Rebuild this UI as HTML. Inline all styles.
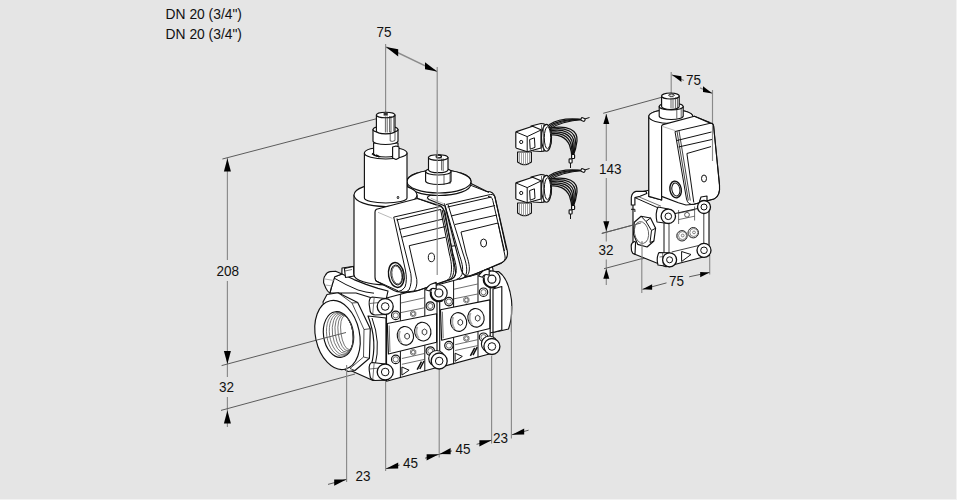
<!DOCTYPE html>
<html><head><meta charset="utf-8">
<style>
html,body{margin:0;padding:0;background:#e5e5e5;width:957px;height:500px;overflow:hidden}
svg{display:block;position:absolute;left:0;top:0}
text{font-family:"Liberation Sans",sans-serif;font-size:13.5px;fill:#111}
.d{stroke:#8a8a8a;stroke-width:1.15;fill:none}
.dd{stroke:#5c5c5c;stroke-width:1;fill:none}
.a{fill:#000;stroke:none}
.o{fill:#fff;stroke:#111;stroke-width:1.15;stroke-linejoin:round}
.l{fill:none;stroke:#111;stroke-width:1}
.t{fill:none;stroke:#333;stroke-width:0.7}
.k{fill:#111;stroke:none}
.edge-r{position:absolute;left:956px;top:0;width:1px;height:500px;background:#f2f2f2}
.edge-b{position:absolute;left:0;top:499px;width:957px;height:1px;background:#f2f2f2}
</style></head>
<body>
<div class="edge-r"></div><div class="edge-b"></div>
<svg width="957" height="500" viewBox="0 0 957 500">
<!-- texts -->
<text transform="translate(165.6 19) scale(1.025 1.07)">DN 20 (3/4")</text>
<text transform="translate(165.6 39) scale(1.025 1.07)">DN 20 (3/4")</text>

<g id="dims">
<!-- main top 75 -->
<text transform="translate(376.5 37) scale(1 1.07)">75</text>
<path class="d" d="M385.6 44V112M437.2 67V275"/><path class="d" d="M386 47L437.2 71.6" style="stroke-width:1.4;stroke:#8c8c8c"/>
<!-- left 208/32 -->
<path class="d" d="M227.4 158V260M227.4 281V377M227.4 397V427"/><path class="dd" d="M222.4 159L377 118.6M221.6 365.6L317 340M221 410.4L355 374"/>
<text transform="translate(216.5 276) scale(1 1.07)">208</text>
<text transform="translate(219 392) scale(1 1.07)">32</text>
<!-- bottom -->
<path class="d" d="M346.6 372V482M385.6 381V471M439.2 369V457.6M491.6 356V443.6M511.4 306V438.6"/>
<path class="dd" d="M328 484.4L346.4 479.4M386 468.7L399.6 465M425 458.2L452 450.9M476.6 444.3L491.6 440.2M512 434.7L528.6 430.2"/>
<text transform="translate(355.5 481) scale(1 1.07)">23</text>
<text transform="translate(403 468) scale(1 1.07)">45</text>
<text transform="translate(455.5 454) scale(1 1.07)">45</text>
<text transform="translate(493 443) scale(1 1.07)">23</text>
<!-- small valve dims -->
<path class="d" d="M671.2 72V93.6M712.5 90V161M606.3 114V161M606.3 178V241.4M606.3 259.5V285M641.8 241V292.9M709.7 255V274.6"/><path class="dd" d="M603.2 113.3L662 97.2M601.8 233.4L640.4 223M604 268.7L660 253.8"/>
<path class="d" d="M671.6 74.9L684 80.5M700 87.8L712 93" style="stroke-width:1.3"/><path class="dd" d="M642.5 289.3L666.5 282.9M689.2 276.8L709.6 272.4"/>
<text transform="translate(686 84.7) scale(1 1.07)">75</text>
<text transform="translate(599 174) scale(1 1.07)">143</text>
<text transform="translate(598.5 255.2) scale(1 1.07)">32</text>
<text transform="translate(669 286) scale(1 1.07)">75</text>
</g>

<g id="body">
<!-- main block behind modules -->
<path class="o" d="M342 268L384 262L430 250L488 240L493 270L493 345L440 362L386 380L373 380.5L345.6 368.2L340 340Z"/>
<!-- right flange (outlet) -->
<path class="o" d="M484 272L498.5 271.5C505 276 509.5 285 511.5 300C512.5 312 511 322 508.5 329L500 331L484 334Z"/>
<path class="o" d="M493 289L501.8 286.5V330L493 332.5Z"/>
<!-- body top saddle under left coil -->
<path class="o" d="M330 293L334 277L342 274L354 279.6L366 284.4L378 288.4L388 291L386 300L372 298L356 293Z"/>
<path class="l" d="M334 278Q346 285.2 358 290Q366 292.5 374 293.2"/>
<path class="o" d="M344.4 268.5L353.5 266.5L354 276L345.5 277.5Z"/>
<path class="t" d="M345 271L352 269.5"/>
<!-- hex flange plate -->
<path class="o" d="M323 302L327 294.5L338 292.7L357.7 302.6L370.3 328.7L369.4 358.3L355 370.5L348 371.5L333 362Z"/>
<path class="t" d="M338 292.7L352 303L357.7 302.6M352 303L364 329.5L370.3 328.7M364 329.5L363.5 357L369.4 358.3M363.5 357L350 368.5L355 370.5" style="stroke:#222;stroke-width:0.8"/>
<!-- end plate between flange and modules -->
<path class="o" d="M368 316L386 318V368L371 366Q378 342 368 316Z"/>
<path class="l" d="M372 318Q381 342 375 366"/>
<!-- top-left boss cylinder -->
<path class="o" d="M323.6 282.8Q323.5 277 325.2 275.6Q327 272 330 271.6L335.6 271.2L342 274L334.8 276.8L330.8 289.2L330 293.2Q327 291 326 288.4Z"/>
<path class="t" d="M325 279L334 280.5M325.5 285L332.5 286" style="stroke:#888"/>
<!-- inlet ring -->
<ellipse class="o" cx="337.5" cy="335" rx="22" ry="35" transform="rotate(-12 337.5 335)"/>
<clipPath id="bore"><ellipse cx="338.5" cy="334.5" rx="15" ry="23" transform="rotate(-8 338.5 334.5)"/></clipPath>
<ellipse class="o" cx="338.5" cy="334.5" rx="15" ry="23" transform="rotate(-8 338.5 334.5)"/>
<g class="t" clip-path="url(#bore)" style="stroke:#444;stroke-width:0.7">
<ellipse cx="339.9" cy="334.2" rx="13.2" ry="22.0" transform="rotate(-8 339.9 334.5)"/>
<ellipse cx="341.4" cy="333.9" rx="11.8" ry="21.0" transform="rotate(-8 341.4 334.5)"/>
<ellipse cx="342.9" cy="333.6" rx="10.3" ry="20.0" transform="rotate(-8 342.9 334.5)"/>
<ellipse cx="344.3" cy="333.3" rx="8.9" ry="19.0" transform="rotate(-8 344.3 334.5)"/>
<ellipse cx="345.8" cy="333.0" rx="7.4" ry="18.0" transform="rotate(-8 345.8 334.5)"/>
<ellipse cx="347.2" cy="332.7" rx="6.0" ry="17.0" transform="rotate(-8 347.2 334.5)"/>
</g>
<g id="mod">
<path class="o" d="M386.5 298L437 284.5V367.5L386.5 381.2Z"/>
<path class="l" d="M400.4 294.4V378M424.8 288V371.3"/>
<path class="t" d="M400.8 303L424.4 297.8M400.8 312.6L424.4 307.8M401.9 358.5L424.4 353.5M401.9 364.3L424.4 359.4"/>
<path class="o" d="M387.3 323.5L436.6 313.7L436.6 342.3L388.4 354Z"/>
<path class="t" d="M389.2 325.5L390 352"/>
<ellipse cx="405.4" cy="335.8" rx="8.1" ry="9.4" transform="rotate(-12 405.4 335.8)" fill="#fff" stroke="#111" stroke-width="1.1"/>
<path d="M399.9 330.8Q397.4 336.8 401.4 342.8" stroke="#aaa" stroke-width="2" fill="none"/>
<path d="M409.4 337.7 407.1 339.2 404.8 337.7 404.8 334.7 407.1 333.2 409.4 334.7Z" fill="none" stroke="#222" stroke-width="0.9"/>
<ellipse cx="422.8" cy="331.6" rx="8.1" ry="9.4" transform="rotate(-12 422.8 331.6)" fill="#fff" stroke="#111" stroke-width="1.1"/>
<path d="M417.3 326.6Q414.8 332.6 418.8 338.6" stroke="#aaa" stroke-width="2" fill="none"/>
<path d="M426.8 333.5 424.5 335.0 422.2 333.5 422.2 330.5 424.5 329.0 426.8 330.5Z" fill="none" stroke="#222" stroke-width="0.9"/>
<path class="t" d="M410.5 312.2L413 310.6L415.8 312.2L415.8 315.4L413.2 317L410.6 315.5ZM410.5 350.6L413 349L415.8 350.6L415.8 353.8L413.2 355.4L410.6 353.9Z" style="stroke:#444"/>
<g class="t"><circle cx="413.2" cy="313.8" r="1.8"/><circle cx="413.2" cy="352.2" r="1.8"/></g>
<g class="o"><circle cx="395.7" cy="315.4" r="4.2"/><circle cx="395.7" cy="359.4" r="4.2"/><circle cx="430.3" cy="306" r="4.2"/><circle cx="430.3" cy="351" r="4.2"/></g>
<g class="t"><circle cx="395.7" cy="315.4" r="2.6"/><circle cx="395.7" cy="359.4" r="2.6"/><circle cx="430.3" cy="306" r="2.6"/><circle cx="430.3" cy="351" r="2.6"/></g>
<path class="l" d="M401.9 367L401.9 375.1L409.1 370.2Z"/>
<path d="M417.2 369.7L421.5 361.6M419.8 369L424 361" stroke="#111" stroke-width="1.5" fill="none"/>
</g>
<use href="#mod" transform="translate(53.2 -13.8)"/>
</g>

<g id="act">
<!-- B2: right plug housing -->
<path class="o" d="M429 196L445 187L470 183L487 191.5Q493 191.2 494.8 196.5L507.2 250.5Q508.8 258.5 502 262.5L472 275.5Q464 278.5 461.5 270.5L445 206L429 199.5Q426 197 429 196Z"/>
<path class="t" d="M430.8 198.2L445 204.3" style="stroke:#999"/>
<path class="l" d="M470 185L489 192.5"/>
<path class="l" d="M446 204.5L490.5 194.5M447.5 207L491.5 197M451 216L495 205.5M455 224.5L497 215M461 232L498 223L505 256Q506 261 501 263.5L476 273.5Q468 276.5 463.8 277.4"/>
<path class="l" d="M444.5 203.5L459 254C461.5 261 463.8 268 462 274.4C460.5 277.5 458.5 278.8 456.6 279.2M448 204.5L463.2 254C466 262 468.5 271 465 276.8C463 278.5 461 279.2 459 279.2M461 232L466.2 254C468.5 261 470.5 268 468.6 273.2C467.5 275.5 466 276.8 463.8 277.4"/>
<path class="l" d="M490.5 194.5Q494.5 194 495.3 198.5L506.5 250M488 196.5Q492 196.3 492.8 200.5L504.5 251"/>
<ellipse class="l" cx="483.6" cy="243" rx="3" ry="4"/>
<path d="M407.5 184Q413 191 417.5 197.5L425.5 199.5L427.5 196L433 189Z" fill="#fff" stroke="none"/>
<path class="l" d="M407.5 184Q413 191 417.5 197.5"/>
<!-- A2: right actuator disk + cap -->
<path class="o" d="M407 181.5A32 11.5 0 0 1 471 181.5V184A32 11.5 0 0 1 407 184Z"/>
<ellipse class="o" cx="439" cy="181.5" rx="32" ry="11.5"/>
<path class="o" d="M425.6 171.5V181A12.7 3.5 0 0 0 451 181V171.5Z"/>
<ellipse class="o" cx="438.3" cy="171.5" rx="12.7" ry="3.5"/>
<path class="o" d="M428.5 157.5V170A9.8 3 0 0 0 448 170V157.5Z"/>
<ellipse class="o" cx="438.2" cy="157.5" rx="9.8" ry="2.8"/>
<path class="t" d="M441.6 158.5V170.5M443.2 158.5V171M444 174V185M450 173V184" style="stroke:#222"/>
<ellipse cx="438.8" cy="156.4" rx="2.6" ry="1.4" fill="none" stroke="#111" stroke-width="1.3"/>
<!-- A1: left actuator -->
<path class="o" d="M354 195V274.4A31.5 10.5 0 0 0 417 274.4V195Z"/>
<ellipse class="o" cx="385.5" cy="195" rx="31.5" ry="11.5"/>
<path class="o" d="M364.4 153V198A21.3 5 0 0 0 407 198V153Z"/>
<ellipse class="o" cx="385.7" cy="153" rx="21.3" ry="6"/>
<ellipse class="l" cx="398" cy="197.5" rx="0.8" ry="1.2"/>
<path class="o" d="M373.6 143V154A12.2 3 0 0 0 398 154V143Z"/>
<path class="o" d="M373 129.5V141A12.5 3.5 0 0 0 398 141V129.5Z"/>
<ellipse class="o" cx="385.5" cy="129.5" rx="12.5" ry="3.5"/>
<path class="o" d="M376.4 115V131A9.3 2.8 0 0 0 395 131V115Z"/>
<ellipse class="o" cx="385.7" cy="115" rx="9.3" ry="2.8"/>
<path class="t" d="M385.4 116.5V132.5M387.2 116.5V132.5M389.6 116V132M391 116V132M393.8 115.5V131.5M390.2 131.5V141M395 131V140.5M390.2 141Q392.5 142 395 140.5" style="stroke:#222"/>
<rect x="383.6" y="112.8" width="4.2" height="2.8" class="k" style="fill:#333"/>
<path class="o" d="M392.6 147L396 146L399 147V158L396 159.5L392.6 158Z"/>
<path class="l" d="M372 153.5L375 155.5M376 155L379.5 157" style="stroke-width:1.6"/>
<!-- B1: left plug housing -->
<path class="o" d="M376.5 209.2L417.5 198.5L436 204.5L441 206L445 212L455.5 271Q456.5 277 451 279L418 290.5Q412 292.5 407 292L400 292Q397 292 394 290.5L377 281.5Q375 280.5 375 277V212Q375 210 376.5 209.2Z"/>
<path class="t" d="M378 212.3L392.3 218.4" style="stroke:#999"/>
<path class="l" d="M417.5 198.5L436.5 205.2"/>
<path class="l" d="M393.7 217.1L439.4 206.7Q443.2 206 443.8 210.5L453 254C455.5 262 457.5 270 455.4 274.4C454.5 277 453 278.5 451.8 279.2L418 290.5L400.6 292.8M393.7 217.1L405.4 270Q407.5 280 405 287Q402.5 291 398.2 291.6"/>
<path class="l" d="M396.6 220L440.3 209.5M399.4 229.5L443.2 219M402.3 237.1L445 226.6M416.8 279.6L409.2 245.7L445.5 237.2M416.8 279.6Q417.5 287 414 291"/>
<path class="l" d="M397 218.5L410.8 273.6Q412.3 283 409 290Q406 293 400.6 292.8M440.5 209L449.4 254C451 260 452.5 268 450.6 275.6C449.8 278 448.5 279.5 447 280.4M442.2 210L451.2 254C453.3 261 455 269 453 275C452 278 450.5 279.5 449 280"/>
<ellipse class="l" cx="431.4" cy="257.4" rx="3.1" ry="4.3"/>
<ellipse class="o" cx="396.3" cy="275" rx="7.7" ry="12.5" transform="rotate(-10 396.3 275)" style="stroke-width:1.5"/>
<ellipse class="l" cx="396.7" cy="275" rx="5.7" ry="10" transform="rotate(-10 396.7 275)"/>
<ellipse class="t" cx="396.9" cy="275" rx="4.8" ry="9" transform="rotate(-10 396.9 275)"/>
<path class="l" d="M375.2 280.5L398.4 291"/>
</g>

<g id="bolts">
<path class="o" d="M385.2 298.5L372.2 297.0Q368.7 297.5 369.2 304.5L370.2 311.5Q371.2 314.5 375.2 315.0L385.2 314.5Z"/>
<path class="t" d="M374.2 297.2L372.7 314.7M369.7 303.5L379.2 302.5"/>
<circle class="o" cx="385.2" cy="306.5" r="8" style="stroke-width:1.3"/>
<circle class="l" cx="385.2" cy="306.5" r="3.8"/>
<path class="o" d="M385.2 364L372.2 362.5Q368.7 363 369.2 370L370.2 377Q371.2 380 375.2 380.5L385.2 380Z"/>
<path class="t" d="M374.2 362.7L372.7 380.2M369.7 369L379.2 368"/>
<circle class="o" cx="385.2" cy="372" r="8" style="stroke-width:1.3"/>
<circle class="l" cx="385.2" cy="372" r="3.8"/>
<circle class="o" cx="438.9" cy="293" r="8.3"/>
<path class="o" d="M425.5 289.8Q429 285 431 284.3L436.2 282.4V289Q431 287 429.5 291Z"/>
<path d="M430.79999999999995 292A8.2 8.2 0 0 0 442.9 300.2" stroke="#111" stroke-width="2" fill="none"/>
<circle class="o" cx="438.9" cy="293" r="4" style="stroke-width:1.2"/>
<circle class="o" cx="436.7" cy="358.5" r="8"/>
<circle class="o" cx="439.2" cy="361" r="8" style="stroke-width:1.3"/>
<circle class="l" cx="439.2" cy="361" r="3.8"/>
<circle class="o" cx="491.9" cy="279.2" r="8.3"/>
<path class="o" d="M478.5 276Q482 271.2 484 270.5L489.2 268.6V275.2Q484 273.2 482.5 277.2Z"/>
<path d="M483.79999999999995 278.2A8.2 8.2 0 0 0 495.9 286.4" stroke="#111" stroke-width="2" fill="none"/>
<circle class="o" cx="491.9" cy="279.2" r="4" style="stroke-width:1.2"/>
<circle class="o" cx="489.4" cy="344.0" r="8"/>
<circle class="o" cx="491.9" cy="346.5" r="8" style="stroke-width:1.3"/>
<circle class="l" cx="491.9" cy="346.5" r="3.8"/>
</g>
<path class="d" d="M437.2 150V275"/>
<path class="d" d="M511.4 306V332"/>
<path class="dd" d="M317 340L346 332.5"/><path class="d" d="M346.6 365V372"/>

<g id="conn">
<!-- wires -->
<g fill="none" stroke-linecap="round" stroke="#111">
<path d="M550.0 128.0C568.0 125.0 578.0 130.0 577.0 141.0C576.0 150.0 574.0 154.0 572.5 157.5" stroke-width="1.25"/>
<path d="M550.2 129.4C566.0 126.8 575.6 131.4 575.5 141.8C575.1 150.2 573.6 154.2 572.4 157.6" stroke-width="1.25"/>
<path d="M550.4 130.8C564.0 128.6 573.2 132.8 574.0 142.6C574.2 150.4 573.2 154.4 572.3 157.7" stroke-width="1.25"/>
<path d="M550.6 132.2C562.0 130.4 570.8 134.2 572.5 143.4C573.3 150.6 572.8 154.6 572.2 157.8" stroke-width="1.25"/>
<path d="M550.8 133.6C560.0 132.2 568.4 135.6 571.0 144.2C572.4 150.8 572.4 154.8 572.1 157.9" stroke-width="1.25"/>
<path d="M551.0 135.0C558.0 134.0 566.0 137.0 569.5 145.0C571.5 151.0 572.0 155.0 572.0 158.0" stroke-width="1.25"/>
<path d="M549.5 124.5C557 119.5 569 118.0 583 119.5" stroke-width="1.15"/>
<path d="M549.5 126.1C557 120.9 569 118.8 583 119.5" stroke-width="1.15"/>
<path d="M549.5 127.7C557 122.3 569 119.6 583 119.5" stroke-width="1.15"/>
<path d="M549.5 129.3C557 123.7 569 120.4 583 119.5" stroke-width="1.15"/>
</g>
<path d="M583 119.5L589.5 117.5M570.5 163L570.5 168" stroke="#111" stroke-width="1"/>
<rect x="581.5" y="117.5" width="3" height="4" rx="1" class="o" transform="rotate(-70 583 119.5)"/>
<rect x="571.6" y="154.5" width="3" height="4" rx="0.8" class="o"/>
<rect x="569.1" y="158.8" width="3" height="4.2" rx="0.8" class="o"/>
<!-- gland -->
<path class="o" d="M517.6 152V162Q524.5 167.5 531.4 162V152Z"/>
<path class="t" d="M519.5 153V163.5M521.5 153V164.8M523.5 153V165.3M525.5 153V165.3M527.5 153V164.8M529.5 153V163.8" style="stroke:#777"/>
<!-- nut -->
<path class="o" d="M531 126L541 123.5Q551.5 124 551.5 137.8Q551.5 151 541 151.5L533 151Z"/>
<ellipse class="o" cx="546.5" cy="137.8" rx="5" ry="13.4"/>
<ellipse class="l" cx="547.5" cy="137.8" rx="3.2" ry="11"/>
<path class="t" d="M541.5 125V151M543.5 124.5V151.3"/>
<!-- cube -->
<path class="o" d="M516.5 131.6L532.6 126.2L541 129.8V148L527.2 151.8L516.6 148.2Q515.8 147.8 515.8 147V132.6Q515.8 131.9 516.5 131.6Z"/>
<path class="l" d="M516 132L527.2 136.6L541 130M527.2 136.6V151.6"/>
<path class="l" d="M529.6 139.6L534.4 137.8L535 147.4L530.2 149.2Z"/>
<circle class="l" cx="521.2" cy="142" r="1.6"/>
</g>
<use href="#conn" transform="translate(0 51)"/>

<g id="small">
<!-- body block -->
<path class="o" d="M634 193.5L652 189.5L700 200L709 205V255.5L666 266.8L633 253.5V197Z"/>
<path class="l" d="M634.9 197.6L664 210.5M664 216L709 206M664 211V266"/>
<path class="t" d="M638.5 196.7L661 206.2"/>
<path class="l" d="M631 209.3H634.9V212"/>
<!-- top band on front face -->
<path class="t" d="M678.6 213.2L694.6 209.8M678.6 219.6L694.6 216.2M678.6 210V224M694.6 206.5V220.5"/>
<circle cx="687" cy="214.8" r="2.4" fill="#fff" stroke="#333" stroke-width="0.8"/>
<!-- screws -->
<g fill="#fff" stroke="#222" stroke-width="1"><circle cx="682" cy="235.8" r="5.2"/><circle cx="693.3" cy="232.7" r="5.2"/></g>
<g class="t" style="stroke:#555"><circle cx="682.5" cy="235.6" r="4"/><circle cx="693.8" cy="232.5" r="4"/><circle cx="682.7" cy="235.5" r="1.4"/><circle cx="694" cy="232.4" r="1.4"/></g>
<path d="M677.5 233.5A5 5 0 0 0 680 240.5M688.8 230.4A5 5 0 0 0 691.3 237.4" stroke="#777" stroke-width="1.2" fill="none"/>
<path class="l" d="M671.7 252L699.6 245.3M669 224V253.5M703.8 213V243" style="stroke-width:0.8"/>
<path class="l" d="M681.6 251.5V261.5L691 254.5Z"/>
<!-- hex cap on left face -->
<path class="o" d="M634.3 222.3L641.1 216.3L650.5 218L655.6 228.2L653.9 241L647.1 247L637.7 244.4L633.5 234.2Z"/>
<path class="l" d="M641.1 216.3L646 221.5L650.5 218M646 221.5L651.5 230.5L655.6 228.2M651.5 230.5L650 242.5L653.9 241"/>
<ellipse class="t" cx="641.5" cy="232.5" rx="7" ry="11" transform="rotate(-10 641.5 232.5)"/>
<!-- back bosses on left face -->
<path class="o" d="M631.3 205V197.5Q632 192.3 636 191.4L646 191.3L646.8 193.5L640 196.2L634.9 197.6V205Z"/>
<path class="o" d="M634.3 241.4Q631 243 631.2 246L631.5 250.5Q632 253.5 635 254.2L635.6 242Z"/>
<!-- cylinder -->
<path class="o" d="M648.8 116.5V196.4L661.6 200V116.5Z"/>
<path class="o" d="M648.8 116.5A22 7 0 0 1 692.8 116.5V122L661.6 128V200L648.8 196.4Z"/>
<ellipse class="o" cx="670.8" cy="116.5" rx="22" ry="7"/>
<!-- ring & cap -->
<path class="o" d="M659.2 106.5V116A12 3.5 0 0 0 683.2 116V106.5Z"/>
<ellipse class="o" cx="671.2" cy="106.5" rx="12" ry="3.5"/>
<path class="o" d="M661.6 96V106.5A8.8 3 0 0 0 679.2 106.5V96Z"/>
<ellipse class="o" cx="670.4" cy="96" rx="8.8" ry="3"/>
<path class="t" d="M671 97.5V108.5M673 97.5V108.5M675.4 97.5V108.5M677.4 97V108M676.8 108.5V118.5M681.2 107.5V117" style="stroke:#222"/>
<ellipse cx="671.5" cy="95.2" rx="2.8" ry="1.2" fill="none" stroke="#111" stroke-width="1"/>
<!-- plug housing -->
<path class="o" d="M663 124.6L694.4 116.2L710.3 123.1Q713.2 122.7 713.6 126L719.5 185Q720.5 196 714 199L694 204.2L686 205L678.4 202.8L661.6 196.4V126.6Q661.6 125 663 124.6Z"/>
<path class="t" d="M663 126.6L675.2 130.6" style="stroke:#999"/>
<path class="l" d="M694.4 116.2L710.4 122.6"/>
<path class="l" d="M675 131.5L710 123.3Q713 122.8 713.6 126L719.5 185Q720.5 196 714 199L694 204.2Q688 205.5 686.5 199L675 131.5Z"/>
<path class="l" d="M677 131.2L688.3 200.5M679 130.7L690.3 200.5" style="stroke-width:0.8"/>
<path class="l" d="M676.9 140.5L711.5 132M678.5 147L712.4 139.4M693.8 202.5L686.9 153.5L711 146.6"/>
<ellipse class="l" cx="704" cy="178.5" rx="2.5" ry="3.5"/>
<ellipse class="o" cx="675.6" cy="189.5" rx="5.7" ry="8.4" transform="rotate(-10 675.6 189.5)" style="stroke-width:1.4"/>
<ellipse class="l" cx="675.9" cy="189.5" rx="4" ry="6.5" transform="rotate(-10 675.9 189.5)"/>
<!-- bolts -->
<path class="o" d="M704 212.5L709 211L709 203L704 202Z"/>
<path class="o" d="M699.5 201.5L701 197L707 196L707 204Z"/>
<path class="o" d="M668.3 209L658 207Q655 213 657 222L668.3 223.5Z"/>
<circle class="o" cx="668.3" cy="216.3" r="7.2" style="stroke-width:1.3"/>
<circle class="l" cx="668.3" cy="216.3" r="3.3"/>
<circle class="o" cx="704" cy="207" r="6.5" style="stroke-width:1.3"/>
<circle class="l" cx="704" cy="207" r="3"/>
<path class="o" d="M669.6 252.8L659 252.5Q656 258 658 265L669.6 266.8Z"/>
<path class="t" d="M659.5 257L664 256.5M662.5 252.6L663.5 266"/>
<circle class="o" cx="669.6" cy="259.8" r="7" style="stroke-width:1.3"/>
<circle class="l" cx="669.6" cy="259.8" r="3"/>
<circle class="o" cx="704" cy="250.3" r="7" style="stroke-width:1.3"/>
<circle class="l" cx="704" cy="250.3" r="3.3"/>
</g>
<path class="d" d="M712.5 125V161M642 241V260"/><path class="dd" d="M601.8 233.4L640.9 223"/>

<path class="a" d="M386.0 47.0L398.2 49.3L398.2 56.5Z"/>
<path class="a" d="M437.2 71.6L425.0 62.2L425.0 69.2Z"/>
<path class="a" d="M227.4 158.5L230.9 171.5L223.9 171.5Z"/>
<path class="a" d="M227.4 364.0L223.9 351.0L230.9 351.0Z"/>
<path class="a" d="M227.4 410.5L230.9 423.5L223.9 423.5Z"/>
<path class="a" d="M346.4 479.4L334.2 479.5L334.2 485.7Z"/>
<path class="a" d="M386.0 468.7L398.2 462.4L398.2 468.6Z"/>
<path class="a" d="M438.8 454.2L426.6 454.3L426.6 460.5Z"/>
<path class="a" d="M439.6 454.0L450.6 447.9L450.6 454.3Z"/>
<path class="a" d="M491.6 440.2L479.4 440.3L479.4 446.5Z"/>
<path class="a" d="M512.0 434.7L524.2 428.4L524.2 434.6Z"/>
<path class="a" d="M672.0 74.8L681.4 76.3L681.4 81.9Z"/>
<path class="a" d="M712.4 93.4L703.0 86.3L703.0 91.9Z"/>
<path class="a" d="M606.3 114.0L609.3 124.0L603.3 124.0Z"/>
<path class="a" d="M606.3 231.2L603.3 221.2L609.3 221.2Z"/>
<path class="a" d="M606.3 268.8L609.3 278.8L603.3 278.8Z"/>
<path class="a" d="M642.5 289.3L652.1 284.2L652.1 289.8Z"/>
<path class="a" d="M709.6 272.4L700.2 272.1L700.2 277.3Z"/>
</svg>
</body></html>
